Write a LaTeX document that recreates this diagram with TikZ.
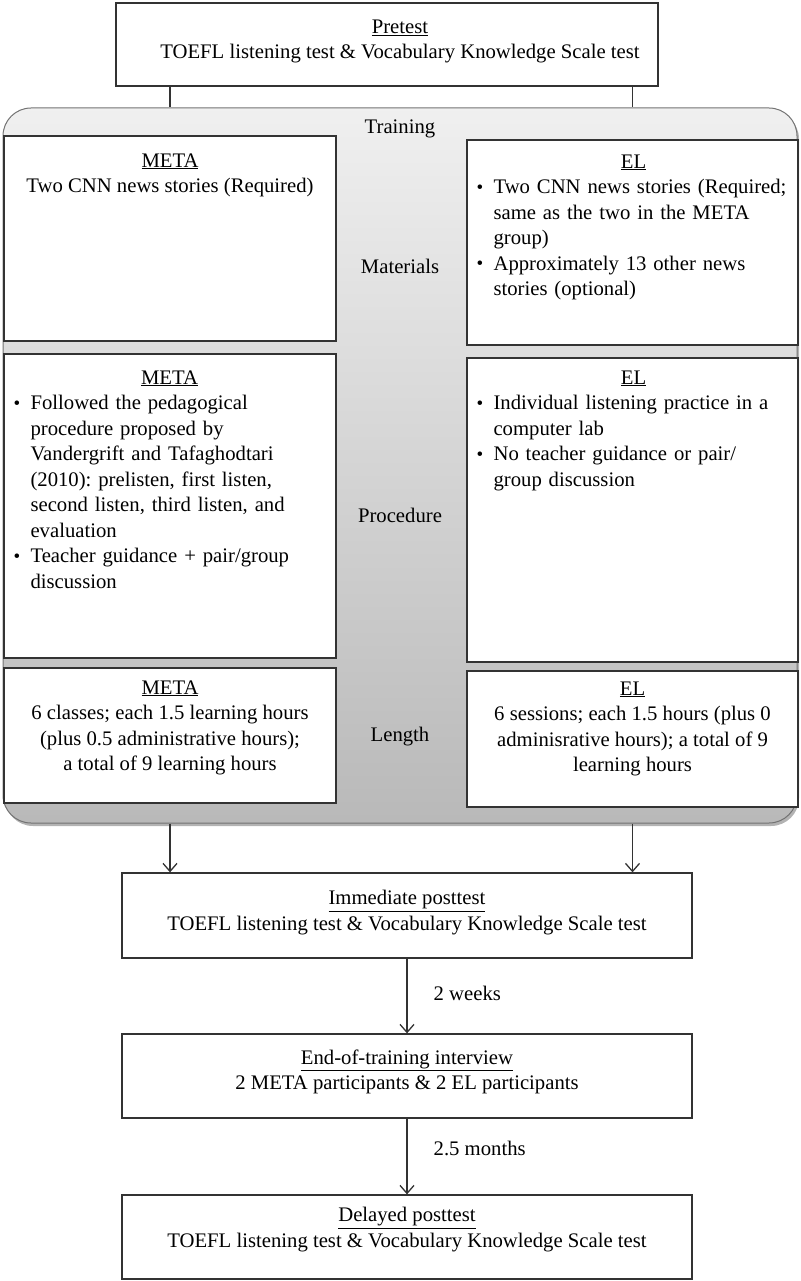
\documentclass[tikz,border=0pt]{standalone}
\usepackage{fontspec}
\setmainfont{Liberation Serif}
\usetikzlibrary{arrows.meta,shadows}
\frenchspacing

\newcommand{\bitem}[1]{\par\noindent\hangindent=18pt\hangafter=1\hbox to 18pt{\hspace{1pt}\raisebox{0.6pt}{\fontsize{19}{19}\selectfont\textbullet}\hfil}#1\par}

\begin{document}
\begin{tikzpicture}[x=1pt,y=-1pt,
  every node/.style={font=\fontsize{20.7}{25.5}\selectfont},
  box/.style={draw=black!80, line width=1.3pt, fill=white, inner sep=0pt},
  txt/.style={anchor=north west, inner sep=0pt, align=left, text width=#1},
  ctxt/.style={anchor=north, inner sep=0pt, align=center},
  link/.style={draw=black!80, line width=1.3pt},
  arr/.style={link, -{Straight Barb[length=8pt,width=14pt]}},
  gap/.style={anchor=west, inner sep=0pt, xshift=26pt},
  panel/.style={draw=black!55, line width=1pt, rounded corners=28pt,
    top color=gray!12, bottom color=gray!55, inner sep=0pt,
    drop shadow={shadow xshift=2pt, shadow yshift=-3pt, opacity=0.6}}]
\useasboundingbox (0,0) rectangle (800,1281);

% pretest
\node[box, minimum width=542pt, minimum height=83pt] (pretest) at (387,44.5) {};
\node[ctxt] (pretesttxt) at ([xshift=13pt, yshift=-17pt]pretest.north)
  {\underline{Pretest}\\TOEFL listening test \& Vocabulary Knowledge Scale test};

% training panel
\node[panel, minimum width=794pt, minimum height=715pt] (training) at (400,465.5) {};
\node (traininglbl) at (400,129) {Training};

\node[box, minimum width=332pt, minimum height=205pt] (metamat) at (170,238.5) {};
\node[box, minimum width=331pt, minimum height=205pt] (elmat) at (632.5,242.5) {};
\node[box, minimum width=332pt, minimum height=304pt] (metaproc) at (170,506) {};
\node[box, minimum width=331pt, minimum height=304pt] (elproc) at (632.5,510) {};
\node[box, minimum width=332pt, minimum height=135pt] (metalen) at (170,735.5) {};
\node[box, minimum width=331pt, minimum height=136pt] (ellen) at (632.5,739) {};

\node (matlbl) at (400,266) {Materials};
\node (proclbl) at (400,515) {Procedure};
\node (lenlbl) at (400,737) {Length};

\node[ctxt] (metamattxt) at ([yshift=-18pt]metamat.north)
  {\underline{META}\\Two CNN news stories (Required)};
\node[txt=316pt] (elmattxt) at ([xshift=9pt, yshift=-15pt]elmat.north west)
  {\centerline{\underline{EL}}
   \bitem{Two CNN news stories (Required;\newline same as the two in the META\newline group)}
   \bitem{Approximately 13 other news\newline stories (optional)}};
\node[txt=314pt] (metaproctxt) at ([xshift=9pt, yshift=-17pt]metaproc.north west)
  {\centerline{\underline{META}}
   \bitem{Followed the pedagogical\newline procedure proposed by\newline Vandergrift and Tafaghodtari\newline (2010): prelisten, first listen,\newline second listen, third listen, and\newline evaluation}
   \bitem{Teacher guidance + pair/group\newline discussion}};
\node[txt=316pt] (elproctxt) at ([xshift=9pt, yshift=-13pt]elproc.north west)
  {\centerline{\underline{EL}}
   \bitem{Individual listening practice in a\newline computer lab}
   \bitem{No teacher guidance or pair/\newline group discussion}};
\node[ctxt] (metalentxt) at ([yshift=-13pt]metalen.north)
  {\underline{META}\\6 classes; each 1.5 learning hours\\(plus 0.5 administrative hours);\\a total of 9 learning hours};
\node[ctxt] (ellentxt) at ([yshift=-11pt]ellen.north)
  {\underline{EL}\\6 sessions; each 1.5 hours (plus 0\\adminisrative hours); a total of 9\\learning hours};

% posttests
\node[box, minimum width=570pt, minimum height=85pt] (immpost) at (407,915.5) {};
\node[ctxt] (immposttxt) at ([yshift=-18pt]immpost.north)
  {\underline{Immediate posttest}\\TOEFL listening test \& Vocabulary Knowledge Scale test};
\node[box, minimum width=570pt, minimum height=84pt] (interview) at (407,1076) {};
\node[ctxt] (interviewtxt) at ([yshift=-16pt]interview.north)
  {\underline{End-of-training interview}\\2 META participants \& 2 EL participants};
\node[box, minimum width=570pt, minimum height=84pt] (delpost) at (407,1237) {};
\node[ctxt] (delposttxt) at ([yshift=-13pt]delpost.north)
  {\underline{Delayed posttest}\\TOEFL listening test \& Vocabulary Knowledge Scale test};

% connectors
\draw[link] (metamat.north |- pretest.south) -- (metamat.north |- training.north);
\draw[link] (elmat.north |- pretest.south) -- (elmat.north |- training.north);
\draw[arr] (metalen.south |- training.south) -- (metalen.south |- immpost.north);
\draw[arr] (ellen.south |- training.south) -- (ellen.south |- immpost.north);
\draw[arr] (immpost) -- node[gap, pos=0.47] {2 weeks} (interview);
\draw[arr] (interview) -- node[gap, pos=0.4] {2.5 months} (delpost);
\end{tikzpicture}
\end{document}
